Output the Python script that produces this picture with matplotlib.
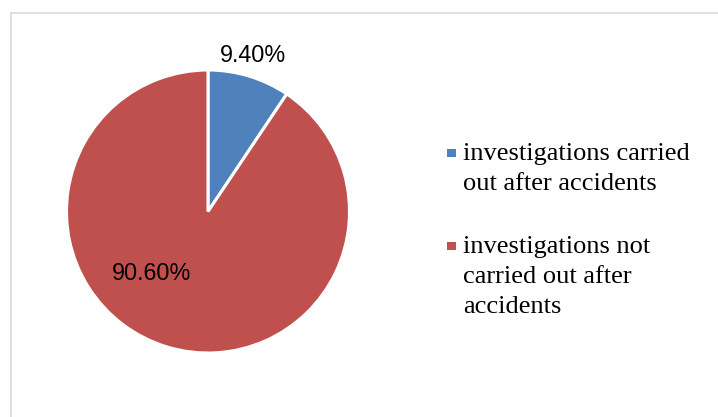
import matplotlib.pyplot as plt
from matplotlib.lines import Line2D
from matplotlib.patches import Rectangle

# Share of accident investigations
labels = ["investigations carried\nout after accidents",
          "investigations not\ncarried out after\naccidents"]
shares = [9.40, 90.60]
colors = ["#4F81BD", "#C0504D"]

W, H = 718, 417
fig = plt.figure(figsize=(W / 100, H / 100), dpi=100)

# pie axes: centre (208, 211.5) px, radius 141.5 px
cx, cy, r = 208, 211.5, 141.5
ax = fig.add_axes([(cx - r) / W, (H - cy - r) / H, 2 * r / W, 2 * r / H])
ax.pie(shares, colors=colors, startangle=90, counterclock=False, radius=1,
       wedgeprops=dict(edgecolor="white", linewidth=2.2))
ax.set_xlim(-1, 1)
ax.set_ylim(-1, 1)
ax.set_aspect("equal")
ax.axis("off")

# percentage labels
label_pos = [(0.318, 1.106), (-0.398, -0.437)]
for v, (x, y) in zip(shares, label_pos):
    ax.text(x, y, f"{v:.2f}%", ha="center", va="center", fontsize=16.8,
            family="Liberation Sans", color="black", clip_on=False)

# chart border (top and left edges)
fig.add_artist(Line2D([11 / W, 717 / W], [1 - 13 / H, 1 - 13 / H],
                      color="#D9D9D9", lw=1.2, transform=fig.transFigure))
fig.add_artist(Line2D([11 / W, 11 / W], [0, 1 - 13 / H],
                      color="#D9D9D9", lw=1.2, transform=fig.transFigure))

# legend drawn by hand so the marker sits on the first text line
baselines = [160, 253]
line_step = 30
for lab, col, yb in zip(labels, colors, baselines):
    fig.add_artist(Rectangle((447 / W, 1 - (yb - 3) / H), 8.5 / W, 8.5 / H,
                             facecolor=col, edgecolor="none",
                             transform=fig.transFigure))
    for i, line in enumerate(lab.split("\n")):
        fig.text(463 / W, 1 - (yb + i * line_step) / H, line, ha="left",
                 va="baseline", fontsize=19, family="Liberation Serif")

fig.savefig("out.png", dpi=100)
